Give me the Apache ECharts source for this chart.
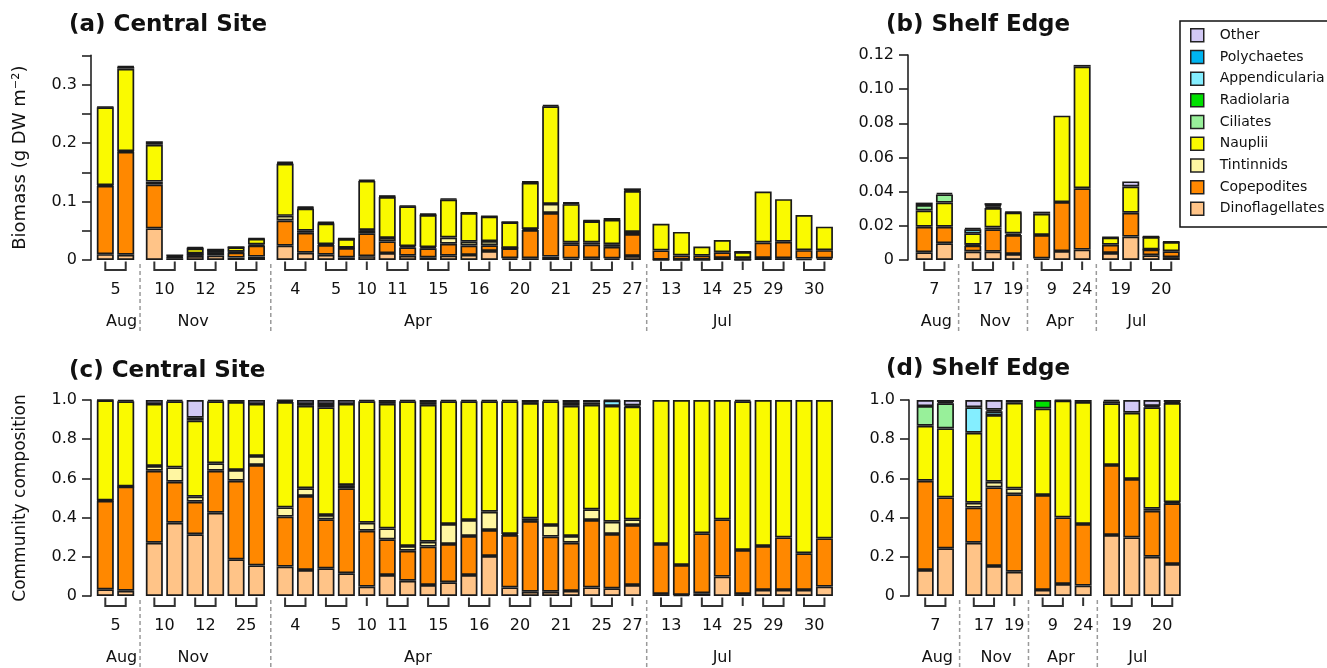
<!DOCTYPE html>
<html><head><meta charset="utf-8">
<script src="https://cdn.jsdelivr.net/npm/echarts@6/dist/echarts.min.js"></script>
<style>html,body{margin:0;padding:0;background:#fff}#chart{width:1327px;height:668px}</style>
</head><body><div id="chart"></div>
<script>
// ================= DATA =================
const months = ['Aug', 'Nov', 'Apr', 'Jul'];

const centralDates       = ['5','10','12','25','4','5','10','11','15','16','20','21','25','27','13','14','25','29','30'];
const centralBarsPerDate = [2,2,2,2, 2,2,1,2,2,2,2,2,2,1, 2,2,1,2,2];
const centralDateMonth   = [0,1,1,1, 2,2,2,2,2,2,2,2,2,2, 3,3,3,3,3];

const shelfDates       = ['7','17','19','9','24','19','20'];
const shelfBarsPerDate = [2,2,1,2,1,2,2];
const shelfDateMonth   = [0,1,1,2,2,3,3];

// stacking order, bottom to top
const categories = ['Dinoflagellates','Copepodites','Tintinnids','Nauplii','Ciliates','Radiolaria','Appendicularia','Polychaetes','Other'];

// (a) Central site biomass, g DW m-2
const bioCentralDino = [.010,.009,.054,.003,.0069,.0077,.0041,.0058,.0245,.0125,.009,.0043,.0066,.0118,.0073,.0044,.0074,.0087,.0153,.0029,.003,.0058,.0026,.003,.0028,.0069,.0006,.0003,.0003,.0034,.0001,.0036,.0032,.0024,.0027];
const bioCentralCope = [.117,.176,.075,.0017,.0037,.0038,.0088,.0189,.043,.034,.0165,.016,.039,.020,.0142,.0155,.0204,.0161,.0100,.0173,.0483,.0745,.0242,.0234,.0197,.0375,.0158,.0073,.0071,.0099,.0032,.0262,.0279,.0144,.0141];
const bioCentralTint = [.001,.001,.005,.0006,.0006,.0007,.0012,.0017,.008,.0035,.0015,.0006,.0056,.006,.0022,.002,.0107,.0066,.0070,.0003,.0017,.0156,.0033,.0037,.0045,.0035,0,0,0,0,0,0,0,0,0];
const bioCentralNaup = [.133,.141,.063,.0027,.0085,.0056,.0076,.0099,.089,.038,.0355,.015,.084,.070,.068,.055,.065,.049,.042,.044,.079,.167,.0654,.0362,.0419,.070,.0456,.0404,.0156,.0207,.0105,.0872,.0729,.0602,.0402];
const bioCentralCili = [0,0,0,0,0,0,.0003,0,0,0,.0011,.0003,0,0,0,0,0,0,0,0,0,0,.0015,0,0,0,0,0,0,0,0,0,0,0,0];
const bioCentralRadi = [0,0,0,0,0,0,0,0,0,0,0,0,0,0,0,0,0,0,0,0,0,0,0,0,0,0,0,0,0,0,0,0,0,0,0];
const bioCentralAppe = [0,0,0,0,0,0,0,0,0,0,0,0,0,0,0,0,0,0,0,0,0,0,0,0,.0012,0,0,0,0,0,0,0,0,0,0];
const bioCentralPoly = [0,.003,0,.0001,.0003,.0002,0,0,.0015,.0015,0,0,.0018,.001,.0013,.0008,.0015,.0006,.0007,.0005,.001,.0021,.0015,.0005,.0009,.0012,0,0,0,0,.0002,0,0,0,0];
const bioCentralOthe = [.001,.001,.006,0,.002,0,0,.0007,.002,.0015,.0014,.0008,0,.0012,0,.0013,0,0,0,0,.001,0,0,.0012,0,.0034,0,0,0,0,0,0,0,0,0];

// (b) Shelf edge biomass, g DW m-2
const bioShelfDino = [.0045,.0098,.0050,.0049,.0035,.0009,.0052,.0061,.0041,.0137,.0028,.0017];
const bioShelfCope = [.0150,.0097,.0034,.0131,.0111,.0137,.0287,.0359,.0048,.0140,.0033,.0034];
const bioShelfTint = [0,0,.0005,.0010,.0009,0,0,0,0,0,.0001,0];
const bioShelfNaup = [.0095,.0141,.0067,.0114,.0123,.0125,.0506,.0712,.0042,.0153,.0072,.0054];
const bioShelfCili = [.0032,.0048,0,0,0,0,0,0,0,0,0,0];
const bioShelfRadi = [0,0,0,0,0,.0012,0,0,0,0,0,0];
const bioShelfAppe = [0,0,.0024,.0009,0,0,0,0,0,0,0,0];
const bioShelfPoly = [0,.0008,0,.0007,.0004,0,0,.0010,.0002,0,.0001,0];
const bioShelfOthe = [.0014,0,.0007,.0013,0,0,0,0,0,.0030,.0004,.0002];

// (c) Central site community composition (fraction)
const compCentralDino = [.034,.027,.272,.374,.315,.425,.187,.156,.150,.133,.141,.116,.048,.107,.078,.056,.070,.107,.204,.044,.022,.022,.026,.044,.039,.056,.010,.005,.014,.099,.010,.031,.031,.031,.048];
const compCentralCope = [.452,.531,.367,.209,.166,.214,.401,.512,.255,.377,.250,.434,.285,.182,.153,.196,.195,.199,.133,.267,.361,.281,.246,.344,.277,.306,.255,.153,.306,.292,.225,.224,.268,.187,.246];
const compCentralTint = [.002,.001,.024,.073,.026,.038,.055,.046,.047,.040,.022,.016,.041,.056,.024,.025,.102,.082,.093,.005,.013,.059,.034,.054,.063,.029,0,0,0,0,0,0,0,0,0];
const compCentralNaup = [.510,.435,.317,.337,.388,.316,.347,.266,.538,.420,.550,.414,.619,.635,.738,.698,.626,.605,.563,.677,.589,.631,.664,.533,.591,.575,.735,.842,.680,.609,.758,.745,.701,.782,.706];
const compCentralCili = [0,0,0,0,0,0,.010,0,0,0,.017,0,0,0,0,0,0,0,0,0,0,0,.015,0,0,0,0,0,0,0,0,0,0,0,0];
const compCentralRadi = [0,0,0,0,0,0,0,0,0,0,0,0,0,0,0,0,0,0,0,0,0,0,0,0,0,0,0,0,0,0,0,0,0,0,0];
const compCentralAppe = [0,0,0,0,0,0,0,0,0,0,0,0,0,0,0,0,0,0,0,0,0,0,0,0,.027,0,0,0,0,0,0,0,0,0,0];
const compCentralPoly = [.002,.006,0,.007,.015,.007,0,0,.006,.010,0,0,.007,.010,.007,.010,.007,.007,.007,.007,.015,.007,.015,.012,.003,.006,0,0,0,0,.007,0,0,0,0];
const compCentralOthe = [0,0,.020,0,.090,0,0,.020,.004,.020,.020,.020,0,.010,0,.015,0,0,0,0,0,0,0,.013,0,.028,0,0,0,0,0,0,0,0,0];

// (d) Shelf edge community composition (fraction)
const compShelfDino = [.133,.243,.272,.153,.124,.031,.061,.053,.311,.299,.200,.163];
const compShelfCope = [.455,.260,.179,.401,.395,.484,.340,.314,.357,.298,.235,.310];
const compShelfTint = [0,0,.025,.029,.030,0,0,0,0,0,.010,.005];
const compShelfNaup = [.281,.352,.357,.340,.437,.442,.596,.623,.315,.338,.518,.507];
const compShelfCili = [.100,.128,0,0,0,0,0,0,0,0,0,0];
const compShelfRadi = [0,0,0,0,0,.043,0,0,0,0,0,0];
const compShelfAppe = [0,0,.130,.019,0,0,0,0,.010,0,0,0];
const compShelfPoly = [0,.007,0,.008,.014,0,.003,.010,.007,0,.007,.005];
const compShelfOthe = [.031,.010,.037,.050,0,0,0,0,0,.065,.030,.010];

// ================= STYLE / LAYOUT =================
const FONT = 'DejaVu Sans';
const INK = '#111';
const colors = {
  Other: '#D2C9F4', Polychaetes: '#00B4F0', Appendicularia: '#84EEFF', Radiolaria: '#00E000',
  Ciliates: '#98F09A', Nauplii: '#FAFA00', Tintinnids: '#FFF6A2', Copepodites: '#FF8800', Dinoflagellates: '#FFC488'
};
// x axis is a fine category grid: SUB slots per bar pitch, GAP extra slots between month groups
const SUB = 10, GAP = 4;
const centralMonthLabelShift = [2.6, -6.2, -20, -10];   // in slots
const shelfMonthLabelShift   = [1.3, 1, -1, -2];

function buildLayout(barsPerDate, dateMonth, dates, pad, tail) {
  const slot = [], brackets = [], monthFirst = {}, monthLast = {};
  let i = 0;
  barsPerDate.forEach((n, k) => {
    const g = dateMonth[k];
    const start = pad + i * SUB + GAP * g;
    for (let j = 0; j < n; j++) { slot.push(pad + i * SUB + GAP * g); i++; }
    const end = start + (n - 1) * SUB;
    brackets.push([start, end, dates[k]]);
    if (monthFirst[g] === undefined) monthFirst[g] = start;
    monthLast[g] = end;
  });
  const seps = [];
  for (let g = 1; g < months.length; g++) seps.push((monthLast[g - 1] + monthFirst[g]) / 2);
  const centers = months.map((m, g) => (monthFirst[g] + monthLast[g]) / 2);
  const nSlots = slot[slot.length - 1] + tail + 1;
  const slotNames = Array.from({ length: nSlots }, (_, k) => String(k));
  return { slot, brackets, seps, centers, nSlots, slotNames };
}
const centralA = buildLayout(centralBarsPerDate, centralDateMonth, centralDates, 7, 8);
const shelfB = buildLayout(shelfBarsPerDate, shelfDateMonth, shelfDates, 8, 8);
const centralC = buildLayout(centralBarsPerDate, centralDateMonth, centralDates, 7, 8);
const shelfD = buildLayout(shelfBarsPerDate, shelfDateMonth, shelfDates, 8, 8);

const panels = [
  { lay: centralA, shift: centralMonthLabelShift, vals: [bioCentralDino,bioCentralCope,bioCentralTint,bioCentralNaup,bioCentralCili,bioCentralRadi,bioCentralAppe,bioCentralPoly,bioCentralOthe] },
  { lay: shelfB, shift: shelfMonthLabelShift, vals: [bioShelfDino,bioShelfCope,bioShelfTint,bioShelfNaup,bioShelfCili,bioShelfRadi,bioShelfAppe,bioShelfPoly,bioShelfOthe] },
  { lay: centralC, shift: centralMonthLabelShift, vals: [compCentralDino,compCentralCope,compCentralTint,compCentralNaup,compCentralCili,compCentralRadi,compCentralAppe,compCentralPoly,compCentralOthe] },
  { lay: shelfD, shift: shelfMonthLabelShift, vals: [compShelfDino,compShelfCope,compShelfTint,compShelfNaup,compShelfCili,compShelfRadi,compShelfAppe,compShelfPoly,compShelfOthe] }
];

const W_C = 20.43 / SUB, W_S = 20.25 / SUB;
const grids = [
  { left: 91,  top: 55.25, width: (centralA.nSlots - 1) * W_C, height: 204.75, outerBoundsMode: 'none' },
  { left: 908, top: 55,    width: (shelfB.nSlots - 1) * W_S,   height: 205,    outerBoundsMode: 'none' },
  { left: 91,  top: 400,   width: (centralC.nSlots - 1) * W_C, height: 196,    outerBoundsMode: 'none' },
  { left: 909, top: 400,   width: (shelfD.nSlots - 1) * W_S,   height: 196,    outerBoundsMode: 'none' }
];
const xAxes = panels.map((p, pi) => ({ gridIndex: pi, type: 'category', boundaryGap: false, data: p.lay.slotNames, show: false }));
function yAxis(gi, max, interval, formatter, name, nameGap, nameSize) {
  return {
    gridIndex: gi, type: 'value', min: 0, max: max, interval: interval,
    axisLine: { show: true, lineStyle: { color: '#222', width: 1.6 } },
    axisTick: { show: true, length: 9, lineStyle: { color: '#222', width: 1.6 } },
    axisLabel: { formatter: formatter, fontSize: 16, fontFamily: FONT, color: INK, margin: 14 },
    splitLine: { show: false },
    name: name, nameLocation: 'middle', nameGap: nameGap,
    nameTextStyle: { fontSize: nameSize, fontFamily: FONT, color: INK }
  };
}
const yAxes = [
  yAxis(0, 0.35, 0.05, v => { const r = Math.round(v * 100); return r % 10 ? '' : (r === 0 ? '0' : (r / 100).toFixed(1)); }, 'Biomass (g DW m\u207B\u00B2)', 62, 18),
  yAxis(1, 0.12, 0.02, v => v === 0 ? '0' : v.toFixed(2), '', 0, 16),
  yAxis(2, 1.0, 0.2, v => v === 0 ? '0' : v.toFixed(1), 'Community composition', 62, 17),
  yAxis(3, 1.0, 0.2, v => v === 0 ? '0' : v.toFixed(1), '', 0, 16)
];

const series = [];
panels.forEach((p, pi) => {
  categories.forEach((cat, ci) => {
    const arr = new Array(p.lay.nSlots).fill(null);
    p.lay.slot.forEach((s, i) => { const v = p.vals[ci][i]; arr[s] = v ? v : null; });
    series.push({
      type: 'bar', name: cat, xAxisIndex: pi, yAxisIndex: pi, stack: 'st' + pi,
      barWidth: 17, data: arr,
      itemStyle: { color: colors[cat], borderColor: '#1a1a1a', borderWidth: 1.7 },
      emphasis: { disabled: true }, silent: true
    });
  });
  // brackets + date labels
  series.push({
    type: 'custom', xAxisIndex: pi, yAxisIndex: pi, clip: false, silent: true, z: 5,
    data: p.lay.brackets.map(b => [b[0], 0]),
    renderItem: (params, api) => {
      const b = p.lay.brackets[params.dataIndex];
      const p0 = api.coord([b[0], 0]), p1 = api.coord([b[1], 0]);
      const y0 = p0[1] + 1.5, y1 = p0[1] + 10;
      const ch = [];
      if (b[0] === b[1]) {
        ch.push({ type: 'line', shape: { x1: p0[0], y1: y0, x2: p0[0], y2: y1 }, style: { stroke: '#333', lineWidth: 2 } });
      } else {
        ch.push({ type: 'polyline', shape: { points: [[p0[0], y0], [p0[0], y1], [p1[0], y1], [p1[0], y0]] }, style: { stroke: '#333', lineWidth: 2, fill: null } });
      }
      ch.push({ type: 'text', x: (p0[0] + p1[0]) / 2, y: p0[1] + 29.5,
        style: { text: b[2], fontSize: 16, fontFamily: FONT, fill: INK, align: 'center', verticalAlign: 'middle' } });
      return { type: 'group', children: ch };
    }
  });
  // month labels
  series.push({
    type: 'custom', xAxisIndex: pi, yAxisIndex: pi, clip: false, silent: true, z: 5,
    data: p.lay.centers.map((c, g) => [Math.round(c + p.shift[g]), 0]),
    renderItem: (params, api) => {
      const pt = api.coord([api.value(0), 0]);
      return { type: 'text', x: pt[0], y: pt[1] + 62,
        style: { text: months[params.dataIndex], fontSize: 16, fontFamily: FONT, fill: INK, align: 'center', verticalAlign: 'middle' } };
    }
  });
  // dashed month separators
  series.push({
    type: 'custom', xAxisIndex: pi, yAxisIndex: pi, clip: false, silent: true, z: 4,
    data: p.lay.seps.map(s => [s, 0]),
    renderItem: (params, api) => {
      const pt = api.coord([api.value(0), 0]);
      return { type: 'line', shape: { x1: pt[0], y1: pt[1] + 4, x2: pt[0], y2: pt[1] + 72 },
        style: { stroke: '#9a9a9a', lineWidth: 1.5, lineDash: [4, 3] } };
    }
  });
});

const titleStyle = { fontSize: 23, fontWeight: 'bold', fontFamily: FONT, color: INK };
const option = {
  animation: false,
  backgroundColor: '#fff',
  title: [
    { text: '(a) Central Site', left: 69, top: 14, padding: 0, textStyle: titleStyle },
    { text: '(b) Shelf Edge', left: 886, top: 14, padding: 0, textStyle: titleStyle },
    { text: '(c) Central Site', left: 69, top: 360, padding: 0, textStyle: titleStyle },
    { text: '(d) Shelf Edge', left: 886, top: 358, padding: 0, textStyle: titleStyle }
  ],
  legend: {
    data: categories.slice().reverse(),
    orient: 'vertical', left: 1180, top: 21, padding: [7, 40, 11, 10],
    itemGap: 7.2, itemWidth: 13, itemHeight: 13, icon: 'rect',
    borderColor: '#111', borderWidth: 1.5, selectedMode: false,
    itemStyle: { borderColor: '#222', borderWidth: 1.5 },
    textStyle: { fontSize: 14, fontFamily: FONT, color: INK, padding: [0, 0, 0, 11] }
  },
  grid: grids, xAxis: xAxes, yAxis: yAxes, series: series
};
const chart = echarts.init(document.getElementById('chart'), null, { renderer: 'canvas' });
chart.setOption(option);
</script></body></html>
